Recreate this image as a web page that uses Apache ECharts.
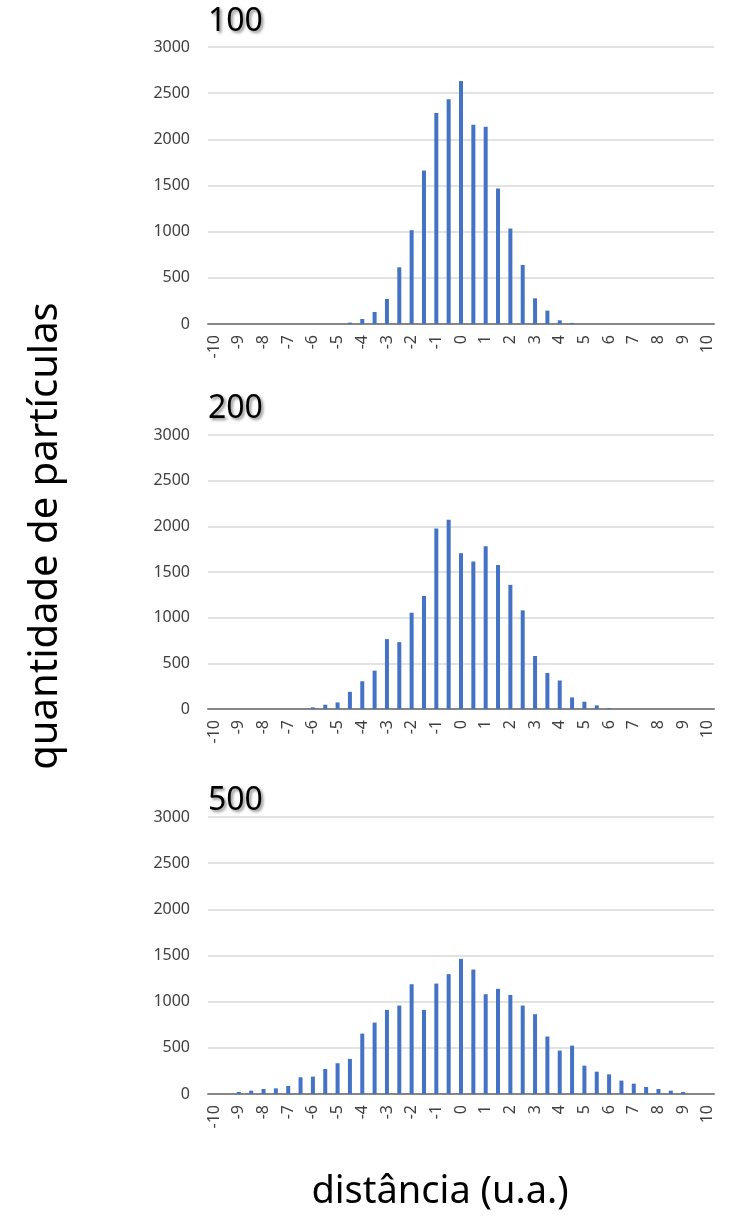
<!DOCTYPE html>
<html>
<head>
<meta charset="utf-8">
<style>
  html, body { margin: 0; padding: 0; background: #fff; }
  #chart { width: 731px; height: 1229px; }
</style>
<script src="https://cdn.jsdelivr.net/npm/echarts@6/dist/echarts.min.js"></script>
</head>
<body>
<div id="chart"></div>
<script>
// distance bins, half-unit steps from -10 to 10
const categories = [
  '-10', '-9.5', '-9', '-8.5', '-8', '-7.5', '-7', '-6.5', '-6', '-5.5',
  '-5', '-4.5', '-4', '-3.5', '-3', '-2.5', '-2', '-1.5', '-1', '-0.5',
  '0', '0.5', '1', '1.5', '2', '2.5', '3', '3.5', '4', '4.5',
  '5', '5.5', '6', '6.5', '7', '7.5', '8', '8.5', '9', '9.5', '10'
]

const panelTitles = ['100', '200', '500']

const counts100 = [
  0, 0, 0, 0, 0, 0, 0, 0, 0, 0,
  0, 15, 54, 130, 271, 614, 1016, 1663, 2284, 2433,
  2631, 2158, 2136, 1467, 1034, 640, 278, 145, 40, 12,
  0, 0, 0, 0, 0, 0, 0, 0, 0, 0, 0
]

const counts200 = [
  0, 0, 0, 0, 0, 0, 0, 0, 18, 47,
  72, 188, 304, 420, 765, 732, 1054, 1239, 1975, 2072,
  1706, 1616, 1783, 1576, 1359, 1080, 580, 395, 312, 127,
  80, 40, 10, 0, 0, 0, 0, 0, 0, 0, 0
]

const counts500 = [
  0, 0, 22, 36, 54, 61, 87, 181, 188, 271,
  333, 380, 654, 773, 911, 958, 1189, 911, 1196, 1298,
  1464, 1348, 1081, 1139, 1073, 958, 864, 622, 470, 524,
  307, 242, 213, 145, 112, 76, 54, 36, 22, 0, 0
]

const yMin = 0
const yMax = 3000
const yStep = 500

const panels = [counts100, counts200, counts500]

// layout of the three stacked panels (px)
const gridTops = [47, 435, 817]
const gridHeights = [277, 274, 277]
const titleTops = [6, 393, 785]

const font = '"Noto Sans", "Open Sans", sans-serif'

const chart = echarts.init(document.getElementById('chart'))

chart.setOption({
  animation: false,
  grid: panels.map((_, i) => ({
    left: 208,
    width: 506,
    top: gridTops[i],
    height: gridHeights[i]
  })),
  xAxis: panels.map((_, i) => ({
    type: 'category',
    gridIndex: i,
    data: categories,
    boundaryGap: true,
    axisTick: { show: false },
    axisLine: { lineStyle: { color: '#868686', width: 2 } },
    axisLabel: {
      interval: 1,
      rotate: 90,
      margin: 11,
      fontSize: 16,
      color: '#404040',
      fontFamily: font
    }
  })),
  yAxis: panels.map((_, i) => ({
    type: 'value',
    gridIndex: i,
    min: yMin,
    max: yMax,
    interval: yStep,
    axisLine: { show: false },
    axisTick: { show: false },
    axisLabel: {
      margin: 18,
      fontSize: 16,
      color: '#404040',
      fontFamily: font,
      formatter: v => String(v)
    },
    splitLine: { lineStyle: { color: '#d9d9d9', width: 1.5 } }
  })),
  series: panels.map((values, i) => ({
    type: 'bar',
    xAxisIndex: i,
    yAxisIndex: i,
    data: values,
    barWidth: 4,
    silent: true,
    itemStyle: { color: '#4472C4' }
  })),
  graphic: [
    ...panelTitles.map((t, i) => ({
      type: 'text',
      left: 208,
      top: titleTops[i],
      style: {
        text: t,
        font: '32px ' + font,
        fill: '#000',
        textShadowColor: 'rgba(0,0,0,0.45)',
        textShadowBlur: 3,
        textShadowOffsetX: 2,
        textShadowOffsetY: 2
      }
    })),
    {
      type: 'text',
      x: 46,
      y: 536,
      rotation: Math.PI / 2,
      style: {
        text: 'quantidade de partículas',
        font: '40px ' + font,
        fill: '#000',
        textAlign: 'center',
        textVerticalAlign: 'middle'
      }
    },
    {
      type: 'text',
      x: 440,
      y: 1192,
      style: {
        text: 'distância (u.a.)',
        font: '38px ' + font,
        fill: '#000',
        textAlign: 'center',
        textVerticalAlign: 'middle'
      }
    }
  ]
})

window.addEventListener('resize', () => chart.resize())
</script>
</body>
</html>
